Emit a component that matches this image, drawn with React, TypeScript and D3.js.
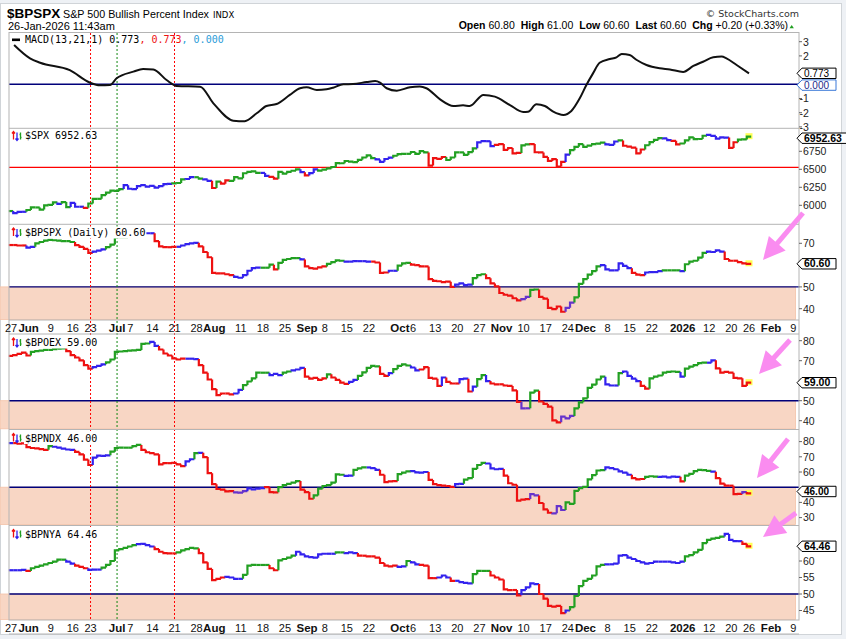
import React from "react";
import * as d3 from "d3";

// ---------- calendar / axis ----------
const HOLIDAYS = ["2025-06-19", "2025-07-04", "2025-09-01", "2025-11-27", "2025-12-25", "2026-01-01", "2026-01-19", "2026-02-16"];

function tradingDays(start: string, end: string): string[] {
  const out: string[] = [];
  const d = new Date(start + "T12:00:00Z");
  const e = new Date(end + "T12:00:00Z");
  while (d <= e) {
    const wd = d.getUTCDay();
    const s = d.toISOString().slice(0, 10);
    if (wd !== 0 && wd !== 6 && !HOLIDAYS.includes(s)) out.push(s);
    d.setUTCDate(d.getUTCDate() + 1);
  }
  return out;
}
const DAYS = tradingDays("2025-05-27", "2026-02-13");

const tickDates = ["2025-05-27", "2025-06-02", "2025-06-09", "2025-06-16", "2025-06-23", "2025-07-01", "2025-07-07", "2025-07-14", "2025-07-21", "2025-07-28", "2025-08-01", "2025-08-11", "2025-08-18", "2025-08-25", "2025-09-02", "2025-09-08", "2025-09-15", "2025-09-22", "2025-10-01", "2025-10-06", "2025-10-13", "2025-10-20", "2025-10-27", "2025-11-03", "2025-11-10", "2025-11-17", "2025-11-24", "2025-12-01", "2025-12-08", "2025-12-15", "2025-12-22", "2026-01-02", "2026-01-12", "2026-01-20", "2026-01-26", "2026-02-02", "2026-02-09"];
const tickLabels = ["27", "Jun", "9", "16", "23", "Jul", "7", "14", "21", "28", "Aug", "11", "18", "25", "Sep", "8", "15", "22", "Oct", "6", "13", "20", "27", "Nov", "10", "17", "24", "Dec", "8", "15", "22", "2026", "12", "20", "26", "Feb", "9"];

const markerDates = ["2025-06-23", "2025-07-01", "2025-07-21"];
const markerKinds = ["red", "green", "red"];

// right-axis tick values per panel (labels hidden behind value boxes are left out)
const macdTicks = [3, 2, -1, -2, -3];
const spxTicks = [6750, 6500, 6250, 6000];
const bpspxTicks = [70, 50, 40];
const bpoexTicks = [80, 70, 50, 40];
const bpndxTicks = [80, 70, 60, 40, 30];
const bpnyaTicks = [60, 55, 50, 45];

// ---------- data ----------
const macdDay = [0.7, 4.3, 6.6, 13.3, 17.9, 20.1, 22.4, 23.9, 27.7, 29.9, 32.2, 35.2, 37.5, 42.8, 45.8, 50.3, 52.9, 55.6, 57.8, 60.1, 63.1, 65.4, 66.9, 69.2, 71.4, 72.9, 75.2, 77.4, 80.5, 82.4, 83.5, 85, 87.3, 90.3, 92.5, 94, 97.1, 100.1, 102.3, 103.8, 106.9, 109.5, 112.9, 115.9, 117, 118.9, 120.8, 122.7, 125, 126.8, 128.7, 130.2, 131.7, 133.2, 135.5, 137, 138.2, 140, 141.6, 143.8, 146.8, 149.1, 152.1, 154.4, 156.6, 158.9, 160.8, 161.9, 164.2, 167];
const macdValue = [2.77, 1.83, 1.52, 1.0, 0.11, -0.07, -0.05, 0.42, 0.89, 1.08, 1.05, 0.3, -0.12, -0.17, -1.34, -2.56, -2.6, -2.04, -1.53, -1.39, -0.75, -0.28, -0.21, -0.4, -0.35, -0.24, 0, 0.02, 0.16, 0.23, 0.12, -0.28, -0.45, -0.21, -0.16, -0.28, -1.06, -1.53, -1.48, -1.53, -0.75, -0.87, -1.46, -1.95, -1.93, -1.41, -1.53, -1.93, -2.16, -1.88, -0.99, -0.05, 0.77, 1.52, 1.78, 1.9, 2.13, 2.06, 1.71, 1.36, 1.13, 1.05, 0.87, 1.29, 1.59, 1.9, 1.95, 1.83, 1.36, 0.773];

const spxClose = [
  5920, 5890, 5910, 5910,
  5935, 5970, 5970, 5940, 6000,
  6005, 6040, 6020, 6045, 5975,
  6035, 5980, 5980, 5965,
  6025, 6090, 6090, 6140, 6175,
  6205, 6200, 6225, 6280,
  6230, 6225, 6265, 6280, 6260,
  6270, 6245, 6265, 6295, 6297,
  6305, 6310, 6360, 6365, 6390,
  6390, 6370, 6360, 6340, 6240,
  6330, 6300, 6345, 6340, 6390,
  6375, 6445, 6465, 6470, 6450,
  6450, 6410, 6395, 6370, 6465,
  6440, 6465, 6480, 6500, 6460,
  6415, 6448, 6500, 6482,
  6495, 6512, 6532, 6587, 6584,
  6615, 6606, 6600, 6631, 6664,
  6693, 6656, 6637, 6604, 6643,
  6661, 6688, 6711, 6715, 6715,
  6740, 6714, 6753, 6735, 6552,
  6654, 6644, 6671, 6629, 6664,
  6735, 6735, 6699, 6738, 6791,
  6875, 6890, 6890, 6822, 6840,
  6851, 6771, 6796, 6720, 6728,
  6832, 6846, 6850, 6737, 6734,
  6672, 6617, 6642, 6538, 6602,
  6705, 6766, 6812, 6849,
  6812, 6829, 6850, 6857, 6870,
  6846, 6840, 6886, 6901, 6827,
  6816, 6800, 6721, 6775, 6834,
  6878, 6909, 6932, 6929,
  6905, 6896, 6845, 6858,
  6902, 6944, 6920, 6921, 6966,
  6977, 6963, 6926, 6944, 6940,
  6797, 6876, 6913, 6915,
  6952.63,
];
const spxColors: [number, string][] = [[0, "G"], [1, "B"], [4, "G"], [11, "B"], [12, "G"], [14, "B"], [17, "R"], [18, "G"], [26, "B"], [37, "G"], [40, "B"], [42, "G"], [44, "B"], [46, "R"], [47, "G"], [48, "R"], [50, "G"], [57, "B"], [59, "R"], [61, "G"], [66, "B"], [67, "R"], [68, "B"], [70, "G"], [83, "B"], [87, "G"], [95, "R"], [99, "G"], [106, "B"], [110, "R"], [116, "G"], [118, "R"], [126, "B"], [127, "G"], [135, "B"], [138, "G"], [139, "R"], [144, "G"], [148, "B"], [150, "R"], [152, "G"], [158, "B"], [163, "R"], [165, "G"]];

const bpspx = [
  69.2, 69.2, 69.0, 69.0, 68.0, 68.4, 70.0, 70.6, 71.2, 71.6,
  71.4, 71.2, 71.0, 71.0, 70.6, 69.2, 68.4, 67.4, 65.6, 66.2,
  66.6, 67.2, 68.2, 69.4, 72.8, 72.8, 72.8, 73.2, 73.4, 74.8,
  74.8, 74.6, 74.6, 71.0, 68.6, 68.2, 68.2, 68.4, 68.4, 69.0,
  69.6, 70.0, 70.2, 68.6, 66.0, 63.6, 56.4, 56.2, 56.2, 55.8,
  55.4, 54.6, 54.2, 55.4, 57.4, 58.6, 58.8, 58.8, 58.8, 60.2,
  58.0, 61.0, 62.4, 62.8, 63.2, 63.2, 62.6, 59.4, 58.6, 58.4,
  59.0, 59.4, 60.6, 61.4, 62.2, 62.0, 61.6, 61.6, 61.8, 61.8,
  61.8, 61.6, 61.6, 61.2, 56.4, 56.6, 57.4, 57.4, 59.8, 60.8,
  61.0, 60.2, 60.0, 59.4, 59.4, 53.6, 52.8, 52.6, 52.2, 52.4,
  50.0, 51.0, 51.6, 50.8, 51.0, 54.0, 55.4, 55.8, 54.0, 51.6,
  50.2, 47.2, 46.4, 46.0, 44.8, 43.8, 44.4, 45.4, 48.6, 48.8,
  45.4, 44.6, 40.4, 39.8, 41.0, 38.6, 40.4, 42.8, 45.2, 51.4,
  53.6, 55.6, 57.2, 59.4, 60.0, 58.0, 57.6, 57.6, 60.8, 59.6,
  58.6, 56.4, 55.6, 55.4, 56.6, 56.8, 56.8, 57.2, 57.6, 57.6,
  57.6, 57.6, 57.2, 60.4, 61.6, 62.0, 63.4, 65.6, 66.2, 66.0,
  66.8, 66.2, 62.8, 62.0, 62.0, 61.4, 60.8, 60.6,
];
const bpspxColors: [number, string][] = [[0, "R"], [4, "B"], [6, "G"], [15, "R"], [19, "B"], [22, "G"], [29, "B"], [33, "R"], [38, "B"], [43, "R"], [51, "B"], [57, "G"], [60, "R"], [61, "G"], [66, "B"], [67, "R"], [72, "G"], [76, "B"], [82, "R"], [86, "B"], [88, "G"], [91, "R"], [101, "B"], [105, "G"], [108, "R"], [116, "P"], [118, "G"], [120, "R"], [126, "P"], [128, "G"], [134, "B"], [141, "R"], [144, "B"], [148, "G"], [152, "B"], [153, "G"], [158, "B"], [162, "R"]];

const bpoex = [
  72.4, 72.8, 73.4, 74.0, 72.6, 74.4, 74.8, 75.0, 75.4, 75.4,
  75.8, 76.0, 76.2, 74.8, 72.8, 71.6, 70.2, 67.8, 66.0, 66.8,
  67.4, 68.2, 69.2, 70.6, 74.4, 74.6, 74.8, 75.0, 75.2, 75.4,
  78.4, 78.6, 79.4, 77.4, 75.6, 73.6, 72.6, 71.2, 70.6, 71.0,
  71.0, 71.0, 70.8, 67.8, 64.0, 60.6, 55.8, 52.8, 53.6, 53.6,
  53.2, 53.6, 55.4, 57.8, 59.6, 61.2, 64.0, 64.0, 64.0, 62.8,
  63.4, 62.8, 64.0, 64.6, 65.2, 65.6, 66.4, 62.0, 61.0, 61.4,
  60.4, 61.2, 63.2, 61.6, 60.4, 59.0, 58.4, 59.4, 60.4, 62.4,
  64.2, 66.4, 67.4, 67.2, 63.4, 62.4, 63.8, 65.8, 67.4, 68.2,
  67.6, 66.6, 65.2, 65.6, 66.8, 61.4, 61.0, 57.4, 61.6, 59.4,
  58.6, 58.6, 60.8, 61.0, 54.6, 57.0, 60.8, 62.8, 59.8, 58.6,
  58.2, 58.2, 57.6, 57.4, 55.2, 49.4, 46.2, 46.2, 54.0, 55.0,
  49.6, 48.4, 47.0, 40.2, 39.2, 42.0, 41.2, 42.4, 46.2, 49.2,
  51.2, 56.4, 58.0, 60.6, 62.0, 58.2, 57.6, 57.6, 63.8, 64.6,
  62.4, 61.0, 59.8, 57.4, 56.0, 61.2, 62.0, 62.6, 64.0, 64.4,
  64.6, 64.4, 62.0, 66.0, 67.0, 67.8, 68.8, 69.0, 69.0, 70.2,
  66.2, 64.0, 64.4, 64.0, 61.4, 61.2, 57.4, 59.0,
];
const bpoexColors: [number, string][] = [[0, "R"], [5, "G"], [13, "R"], [19, "B"], [22, "G"], [32, "B"], [34, "R"], [40, "B"], [43, "R"], [51, "B"], [53, "G"], [59, "B"], [62, "G"], [64, "B"], [67, "R"], [72, "G"], [73, "R"], [77, "B"], [79, "G"], [84, "R"], [86, "B"], [87, "G"], [91, "B"], [93, "R"], [98, "B"], [99, "R"], [102, "B"], [104, "R"], [105, "B"], [106, "G"], [108, "B"], [109, "R"], [116, "P"], [118, "G"], [120, "R"], [125, "P"], [128, "G"], [135, "B"], [138, "G"], [139, "B"], [143, "R"], [145, "G"], [152, "B"], [153, "G"], [158, "B"], [160, "R"]];

const bpndx = [
  79.0, 79.0, 78.6, 78.8, 76.4, 75.8, 75.6, 75.0, 74.6, 77.0,
  76.6, 76.0, 75.4, 74.8, 74.6, 73.2, 71.6, 68.2, 64.6, 69.4,
  70.8, 70.6, 71.0, 73.4, 75.8, 76.0, 76.0, 76.0, 77.0, 77.8,
  74.6, 73.0, 72.4, 71.6, 65.0, 65.8, 65.8, 66.0, 65.0, 63.8,
  67.0, 68.4, 72.4, 72.6, 69.8, 59.2, 52.0, 48.8, 48.4, 47.2,
  47.4, 46.6, 46.4, 47.4, 49.2, 48.6, 49.0, 49.4, 50.0, 46.8,
  46.6, 50.0, 51.4, 52.2, 53.0, 54.0, 48.4, 46.8, 42.4, 44.6,
  49.0, 50.8, 51.4, 53.0, 58.4, 58.2, 57.4, 57.6, 61.4, 62.4,
  63.0, 63.0, 62.6, 61.4, 58.2, 53.4, 53.8, 54.0, 58.6, 59.6,
  60.4, 60.6, 59.8, 59.6, 60.0, 54.8, 52.0, 51.4, 51.0, 50.8,
  50.2, 52.0, 52.2, 55.0, 56.0, 62.0, 64.6, 66.0, 65.6, 62.4,
  61.8, 62.0, 57.6, 52.6, 51.6, 41.2, 41.8, 42.2, 45.4, 44.6,
  39.6, 35.4, 33.2, 32.8, 37.6, 35.0, 40.0, 39.0, 47.6, 49.4,
  50.2, 55.2, 58.0, 61.0, 61.2, 63.0, 62.6, 61.8, 60.4, 59.6,
  58.2, 56.0, 55.2, 55.4, 56.8, 57.2, 57.0, 56.8, 57.0, 56.4,
  57.0, 56.8, 53.8, 57.6, 58.8, 60.6, 61.4, 61.2, 60.8, 60.2,
  56.0, 52.4, 51.0, 51.0, 45.4, 45.6, 46.8, 46.0,
];
const bpndxColors: [number, string][] = [[0, "B"], [1, "R"], [9, "G"], [10, "B"], [15, "R"], [19, "B"], [23, "G"], [30, "R"], [40, "B"], [42, "G"], [43, "B"], [44, "R"], [51, "P"], [54, "B"], [58, "R"], [61, "G"], [66, "R"], [69, "G"], [76, "B"], [78, "G"], [81, "B"], [84, "R"], [88, "G"], [91, "B"], [95, "R"], [101, "B"], [103, "G"], [108, "B"], [112, "R"], [118, "P"], [120, "R"], [123, "P"], [126, "G"], [135, "B"], [141, "R"], [144, "G"], [147, "B"], [152, "R"], [153, "G"], [159, "B"], [160, "R"], [166, "P"], [167, "R"]];

const bpnya = [
  57.2, 57.2, 57.2, 57.3, 57.0, 57.8, 58.2, 58.6, 59.0, 59.4,
  59.8, 60.4, 60.4, 59.8, 59.2, 58.6, 58.2, 57.8, 57.3, 57.4,
  57.4, 58.0, 58.8, 60.0, 63.2, 63.6, 64.0, 64.4, 64.8, 65.1,
  65.2, 64.8, 64.4, 63.6, 62.8, 62.4, 62.3, 62.3, 62.6, 63.2,
  63.6, 64.0, 63.8, 62.4, 59.6, 57.6, 54.2, 54.6, 55.0, 55.2,
  55.0, 54.6, 54.6, 55.8, 58.6, 58.8, 58.8, 58.8, 58.8, 57.8,
  57.2, 60.2, 60.6, 61.0, 61.6, 62.8, 62.0, 61.4, 61.2, 61.0,
  62.0, 62.2, 62.2, 62.2, 62.6, 62.6, 62.4, 62.6, 62.4, 61.6,
  61.6, 61.4, 61.4, 61.0, 59.4, 58.6, 58.4, 58.6, 58.2, 58.4,
  60.0, 59.6, 59.0, 58.8, 58.6, 54.8, 54.8, 55.0, 55.6, 55.0,
  54.0, 54.0, 53.6, 53.4, 53.2, 56.0, 57.0, 57.0, 57.0, 55.6,
  55.0, 54.4, 51.4, 51.2, 51.2, 49.6, 51.2, 52.0, 53.2, 53.0,
  50.0, 48.6, 46.4, 46.2, 46.4, 44.2, 45.0, 46.0, 49.4, 52.4,
  54.0, 54.6, 55.6, 58.4, 58.8, 59.0, 59.0, 59.2, 61.6, 61.8,
  61.0, 60.6, 60.0, 59.6, 59.2, 59.4, 59.8, 59.8, 59.8, 59.8,
  59.6, 59.4, 59.8, 61.4, 61.8, 62.6, 63.4, 65.4, 66.4, 66.8,
  67.0, 67.4, 68.2, 66.4, 66.0, 66.0, 65.2, 64.46,
];
const bpnyaColors: [number, string][] = [[0, "B"], [4, "R"], [5, "G"], [13, "B"], [15, "R"], [18, "B"], [21, "G"], [29, "B"], [33, "R"], [38, "G"], [43, "R"], [49, "B"], [53, "G"], [59, "R"], [61, "G"], [65, "B"], [74, "G"], [76, "B"], [79, "R"], [88, "B"], [90, "G"], [91, "B"], [93, "R"], [97, "B"], [100, "R"], [101, "B"], [105, "G"], [109, "R"], [116, "B"], [120, "R"], [126, "B"], [127, "G"], [135, "B"], [153, "G"], [162, "B"], [166, "R"]];

// ---------- styling ----------
const COLORS: Record<string, string> = { G: "#22a022", R: "#ee1111", B: "#3322ee", P: "#6633cc" };
const ARIAL = "'Liberation Sans', Arial, sans-serif";
const MONO = "'DejaVu Sans Mono', monospace";
const VERD = "'DejaVu Sans', Verdana, sans-serif";
const PINK = "#fa8cf0";
const FRAME = "#b4b4b4";
const NAVY = "#00007a";
const SHADE = "#f8d6c4";
const PL = 9;
const PR = 799;

function colorArray(runs: [number, string][], n: number): string[] {
  const out: string[] = [];
  let r = 0;
  for (let i = 0; i < n; i++) {
    while (r + 1 < runs.length && runs[r + 1][0] <= i) r++;
    out.push(COLORS[runs[r][1]]);
  }
  return out;
}

function Steps({ values, runs, x, y }: any) {
  const cols = colorArray(runs, values.length);
  const last = values.length - 1;
  return (
    <g>
      <rect x={x(last) - 3.5} y={y(values[last]) - 3.5} width={7} height={6} fill="#ffff55" />
      {values.map((v: number, i: number) => {
        const p = i === 0 ? v : values[i - 1];
        const xi = x(i);
        return (
          <path key={i} d={`M${xi - 2.2},${y(p)}V${y(v)}H${xi + 2.2}`} fill="none" stroke={cols[i]} strokeWidth={2.2} />
        );
      })}
    </g>
  );
}

function ValueBox({ y, text, bold = true, stroke = "#000", color = "#000", size = 10.5 }: any) {
  const w = text.length * 6.0 - (text.split(".").length - 1) * 3 + 7;
  const x0 = 797;
  const h = 5.2;
  return (
    <g>
      <path d={`M${x0},${y}L${x0 + 5},${y - h}H${x0 + 5 + w}V${y + h}H${x0 + 5}Z`} fill="#fff" stroke={stroke} strokeWidth={1} />
      <text x={x0 + 7} y={y + 3.7} fontFamily={ARIAL} fontSize={size} fontWeight={bold ? "bold" : "normal"} fill={color}>{text}</text>
    </g>
  );
}

function AxisTicks({ ticks, y }: any) {
  return (
    <g>
      {ticks.map((t: number) => (
        <g key={t}>
          <line x1={PR} x2={PR + 3} y1={y(t)} y2={y(t)} stroke="#666" />
          <text x={t < 0 ? 799.5 : 803} y={y(t) + 3.8} fontFamily={ARIAL} fontSize={10.5} fill="#222">{t}</text>
        </g>
      ))}
    </g>
  );
}

function Icon({ x, y }: any) {
  return (
    <g strokeWidth={1.3}>
      <path d={`M${x + 1.5},${y + 8}V${y}M${x},${y + 2}L${x + 1.5},${y}L${x + 3},${y + 2}`} stroke="#ee1111" fill="none" />
      <path d={`M${x + 5},${y + 1}V${y + 9}M${x + 3.5},${y + 7}L${x + 5},${y + 9}L${x + 6.5},${y + 7}`} stroke="#3322ee" fill="none" />
      <path d={`M${x + 8.5},${y + 1}V${y + 8}M${x + 7.5},${y + 3}H${x + 8.5}M${x + 8.5},${y + 6}H${x + 9.5}`} stroke="#22a022" fill="none" />
    </g>
  );
}

function PanelLabel({ x, y, text }: any) {
  return (
    <g>
      <rect x={x - 1} y={y - 9.5} width={text.length * 6.02 + 2} height={12} fill="#fff" />
      <text x={x} y={y} fontFamily={MONO} fontSize={10} fill="#000">{text}</text>
    </g>
  );
}

function Arrow({ x1, y1, x2, y2 }: any) {
  const dx = x2 - x1, dy = y2 - y1;
  const L = Math.hypot(dx, dy);
  const ux = dx / L, uy = dy / L, nx = -uy, ny = ux;
  const hl = 22, hw = 11;
  const bx = x2 - ux * hl, by = y2 - uy * hl;
  return (
    <g>
      <line x1={x1} y1={y1} x2={bx + ux * 2} y2={by + uy * 2} stroke={PINK} strokeWidth={5} />
      <polygon points={`${x2},${y2} ${bx + nx * hw},${by + ny * hw} ${bx - nx * hw},${by - ny * hw}`} fill={PINK} />
    </g>
  );
}

export default function App() {
  const x = d3.scaleLinear().domain([0, 167]).range([11, 749]);
  const dayX = (s: string) => x(DAYS.indexOf(s));

  const yMacd = d3.scaleLinear().domain([0, 3]).range([84.3, 41.7]);
  const ySpx = d3.scaleLinear().domain([6500, 6750]).range([169.3, 151.3]);
  const yBpspx = d3.scaleLinear().domain([50, 70]).range([286.9, 243.3]);
  const yBpoex = d3.scaleLinear().domain([50, 80]).range([400.7, 340.7]);
  const yBpndx = d3.scaleLinear().domain([30, 80]).range([517.6, 441.6]);
  const yBpnya = d3.scaleLinear().domain([45, 60]).range([610.5, 561]);

  const macdPath = d3.line<number>()
    .x((_, i) => x(macdDay[i]))
    .y((d) => yMacd(d))
    .curve(d3.curveMonotoneX)(macdValue) || "";

  const shades = [
    { y: yBpspx(50), bottom: 319.5 },
    { y: yBpoex(50), bottom: 428.8 },
    { y: yBpndx(50), bottom: 524.5 },
    { y: yBpnya(50), bottom: 619.5 },
  ];

  const xLabels = (baseline: number) =>
    tickDates.map((d, i) => {
      const lab = tickLabels[i];
      const bold = !/^\d{1,2}$/.test(lab);
      return (
        <text key={d + baseline} x={dayX(d)} y={baseline} textAnchor="middle" fontFamily={ARIAL} fontSize={bold ? 11.5 : 11} fontWeight={bold ? "bold" : "normal"} fill="#111">{lab}</text>
      );
    });

  return (
    <div style={{ position: "absolute", left: 0, top: 0, width: 846, height: 639, overflow: "hidden" }}>
      <svg width={846} height={639} style={{ display: "block" }}>
        <rect x={0} y={0} width={846} height={639} fill="#eef1f5" />
        <rect x={0.5} y={3.5} width={841} height={631} fill="#fff" stroke="#d0d4d8" />

        {/* header */}
        <text x={7} y={18} fontFamily={ARIAL} fontSize={13.5} fontWeight="bold" fill="#000">$BPSPX</text>
        <text x={63} y={18} fontFamily={ARIAL} fontSize={11} fill="#000" textLength={146} lengthAdjust="spacingAndGlyphs">S&amp;P 500 Bullish Percent Index</text>
        <text x={213} y={18} fontFamily={VERD} fontSize={8.5} fill="#000">INDX</text>
        <text x={8} y={29.5} fontFamily={ARIAL} fontSize={11} fill="#000">26-Jan-2026 11:43am</text>
        <text x={799} y={17} textAnchor="end" fontFamily={VERD} fontSize={9.5} fill="#333">© StockCharts.com</text>
        <text x={788} y={29} textAnchor="end" fontFamily={ARIAL} fontSize={10.5} fill="#000">
          <tspan fontWeight="bold">Open</tspan><tspan> 60.80</tspan>
          <tspan fontWeight="bold" dx={6}>High</tspan><tspan> 61.00</tspan>
          <tspan fontWeight="bold" dx={6}>Low</tspan><tspan> 60.60</tspan>
          <tspan fontWeight="bold" dx={6}>Last</tspan><tspan> 60.60</tspan>
          <tspan fontWeight="bold" dx={6}>Chg</tspan><tspan> +0.20 (+0.33%)</tspan>
        </text>
        <path d="M789.5,28.3L791.7,25L793.9,28.3Z" fill="#22a022" />

        {/* shaded zones below 50 */}
        {shades.map((s, i) => (
          <rect key={i} x={0} y={s.y} width={795.5} height={s.bottom - s.y} fill={SHADE} stroke="#f3c2a8" strokeWidth={0.8} />
        ))}

        {/* reference lines */}
        <line x1={PL} x2={PR} y1={yMacd(0)} y2={yMacd(0)} stroke={NAVY} strokeWidth={1.4} />
        <line x1={PL} x2={PR} y1={ySpx(6528)} y2={ySpx(6528)} stroke="#ff0000" strokeWidth={1.3} />
        <line x1={PL} x2={PR} y1={yBpspx(50)} y2={yBpspx(50)} stroke={NAVY} strokeWidth={1.4} />
        <line x1={PL} x2={PR} y1={yBpoex(50)} y2={yBpoex(50)} stroke={NAVY} strokeWidth={1.4} />
        <line x1={PL} x2={PR} y1={yBpndx(50)} y2={yBpndx(50)} stroke={NAVY} strokeWidth={1.4} />
        <line x1={PL} x2={PR} y1={yBpnya(50)} y2={yBpnya(50)} stroke={NAVY} strokeWidth={1.4} />

        {/* vertical marker lines */}
        {markerDates.map((d, i) => (
          <line key={d} x1={dayX(d)} x2={dayX(d)} y1={33} y2={620} stroke={markerKinds[i] === "red" ? "#ff0000" : "#118811"} strokeWidth={1} strokeDasharray="2,2" />
        ))}

        {/* MACD */}
        <path d={macdPath} fill="none" stroke="#111" strokeWidth={2} />

        {/* series */}
        <Steps values={spxClose} runs={spxColors} x={x} y={ySpx} />
        <Steps values={bpspx} runs={bpspxColors} x={x} y={yBpspx} />
        <Steps values={bpoex} runs={bpoexColors} x={x} y={yBpoex} />
        <Steps values={bpndx} runs={bpndxColors} x={x} y={yBpndx} />
        <Steps values={bpnya} runs={bpnyaColors} x={x} y={yBpnya} />

        {/* frame */}
        <rect x={PL} y={32.5} width={PR - PL} height={587.5} fill="none" stroke={FRAME} />
        {[128.3, 224.3, 320, 334, 429.5, 525.5].map((yy) => (
          <line key={yy} x1={PL} x2={PR} y1={yy} y2={yy} stroke={FRAME} />
        ))}
        <line x1={PL} x2={PR} y1={634} y2={634} stroke={FRAME} />

        {/* panel labels */}
        <rect x={12} y={38.5} width={8} height={2.6} fill="#000" />
        <text x={25} y={43.3} fontFamily={MONO} fontSize={10}>
          <tspan fill="#000">MACD(13,21,1) 0.773</tspan>
          <tspan fill="#ee1111">, 0.773</tspan>
          <tspan fill="#2a9cd8">, 0.000</tspan>
        </text>
        <Icon x={12} y={131.5} />
        <PanelLabel x={25} y={139} text="$SPX 6952.63" />
        <Icon x={12} y={228} />
        <PanelLabel x={25} y={236} text="$BPSPX (Daily) 60.60" />
        <Icon x={12} y={338} />
        <PanelLabel x={25} y={346} text="$BPOEX 59.00" />
        <Icon x={12} y={433.5} />
        <PanelLabel x={25} y={441.5} text="$BPNDX 46.00" />
        <Icon x={12} y={529.5} />
        <PanelLabel x={25} y={537.5} text="$BPNYA 64.46" />

        {/* right axes */}
        <AxisTicks ticks={macdTicks} y={yMacd} />
        <AxisTicks ticks={spxTicks} y={ySpx} />
        <AxisTicks ticks={bpspxTicks} y={yBpspx} />
        <AxisTicks ticks={bpoexTicks} y={yBpoex} />
        <AxisTicks ticks={bpndxTicks} y={yBpndx} />
        <AxisTicks ticks={bpnyaTicks} y={yBpnya} />

        <ValueBox y={yMacd(0.773)} text="0.773" bold={false} size={10} />
        <ValueBox y={yMacd(0) + 0.8} text="0.000" bold={false} size={10} stroke="#3a78d8" color="#1a2a8a" />
        <ValueBox y={ySpx(6952.63) + 1.5} text="6952.63" />
        <ValueBox y={yBpspx(60.6)} text="60.60" />
        <ValueBox y={yBpoex(59)} text="59.00" />
        <ValueBox y={yBpndx(46) - 1.8} text="46.00" size={10} />
        <ValueBox y={yBpnya(64.46)} text="64.46" />

        {/* x axis labels */}
        {xLabels(332)}
        {xLabels(632)}

        {/* annotation arrows */}
        <Arrow x1={803} y1={213} x2={763} y2={260} />
        <Arrow x1={790} y1={340} x2={759} y2={374} />
        <Arrow x1={788} y1={439} x2={757} y2={478} />
        <Arrow x1={796} y1={513} x2={763} y2={537} />
      </svg>
    </div>
  );
}
